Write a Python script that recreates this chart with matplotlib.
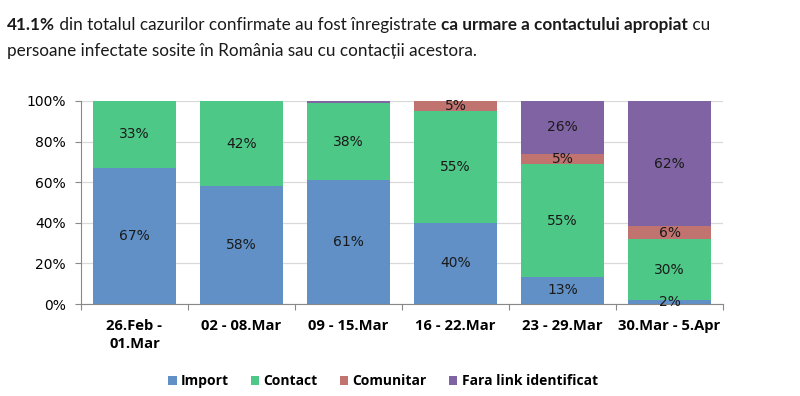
import matplotlib
matplotlib.use("Agg")
import numpy as np
import matplotlib.pyplot as plt
from matplotlib.patches import Patch

# date extrase din grafic (procente)
weeks = ["26.Feb -\n01.Mar", "02 - 08.Mar", "09 - 15.Mar",
         "16 - 22.Mar", "23 - 29.Mar", "30.Mar - 5.Apr"]
import_pct = [67, 58, 61, 40, 13.4, 2.0]
contact_pct = [33, 42, 38, 55, 55.4, 29.8]
comunitar_pct = [0, 0, 0, 5, 5.1, 6.4]
fara_link_pct = [0, 0, 1, 0, 26.1, 61.8]

series_names = ["Import", "Contact", "Comunitar", "Fara link identificat"]
colors = ["#6090C6", "#4DC887", "#C0736F", "#8063A3"]
yticks = [0, 20, 40, 60, 80, 100]

plt.rcParams['font.family'] = ['DejaVu Sans']
label_font = "Open Sans"

fig = plt.figure(figsize=(8, 3.96), dpi=100)
ax = fig.add_axes([81 / 800, 1 - 304 / 396, (723 - 81) / 800, (304 - 101) / 396])

x = np.arange(len(weeks))
bottom = np.zeros(len(weeks))
for vals, col in zip([import_pct, contact_pct, comunitar_pct, fara_link_pct], colors):
    vals = np.array(vals, dtype=float)
    ax.bar(x, vals, bottom=bottom, width=0.78, color=col, zorder=2)
    for xi, b, v in zip(x, bottom, vals):
        if v >= 2:
            ax.text(xi, b + v / 2, f"{v:.0f}%", ha="center", va="center",
                    fontsize=10, color="#1a1a1a", zorder=3)
    bottom += vals

ax.set_xlim(-0.5, len(weeks) - 0.5)
ax.set_ylim(0, 100)
ax.set_yticks(yticks)
ax.set_yticklabels([f"{t}%" for t in yticks], fontsize=10)
ax.yaxis.grid(True, color="#d9d9d9", linewidth=0.9, zorder=0)
ax.set_axisbelow(True)

# etichete centrate, tick-uri la granitele categoriilor
ax.set_xticks(np.arange(-0.5, len(weeks)), minor=False)
ax.set_xticklabels([])
ax.set_xticks(x, minor=True)
ax.set_xticklabels(weeks, minor=True, fontsize=10.6, fontweight="bold",
                   family=label_font, linespacing=1.35)
ax.tick_params(axis="x", which="minor", length=0, pad=11)
ax.tick_params(axis="x", which="major", length=4, color="#888888")
ax.tick_params(axis="y", length=4, color="#888888", pad=7)

for s in ["top", "right"]:
    ax.spines[s].set_visible(False)
for s in ["left", "bottom"]:
    ax.spines[s].set_color("#888888")

handles = [Patch(facecolor=c, label=n) for c, n in zip(colors, series_names)]
fig.legend(handles=handles, loc="center", bbox_to_anchor=(383 / 800, 1 - 381 / 396),
           ncol=4, frameon=False,
           prop={"weight": "bold", "size": 10, "family": label_font},
           handlelength=0.6, handleheight=0.6, handletextpad=0.3,
           columnspacing=1.6)

# titlu cu fragmente ingrosate
title_font = "Lato"
title_size = 12.3
lines = [
    [("41.1%", "bold"), (" din totalul cazurilor confirmate au fost înregistrate ", "normal"),
     ("ca urmare a contactului apropiat", "bold"), (" cu", "normal")],
    [("persoane infectate sosite în România sau cu contacții acestora.", "normal")],
]
renderer = fig.canvas.get_renderer()
for row, y_px in zip(lines, [25, 51]):
    xpos = 7 / 800
    for txt, w in row:
        t = fig.text(xpos, 1 - y_px / 396, txt, fontsize=title_size, fontweight=w,
                     family=title_font, va="center", ha="left", color="#1a1a1a")
        bb = t.get_window_extent(renderer=renderer)
        xpos += bb.width / fig.bbox.width

fig.savefig("out.png", dpi=100)
